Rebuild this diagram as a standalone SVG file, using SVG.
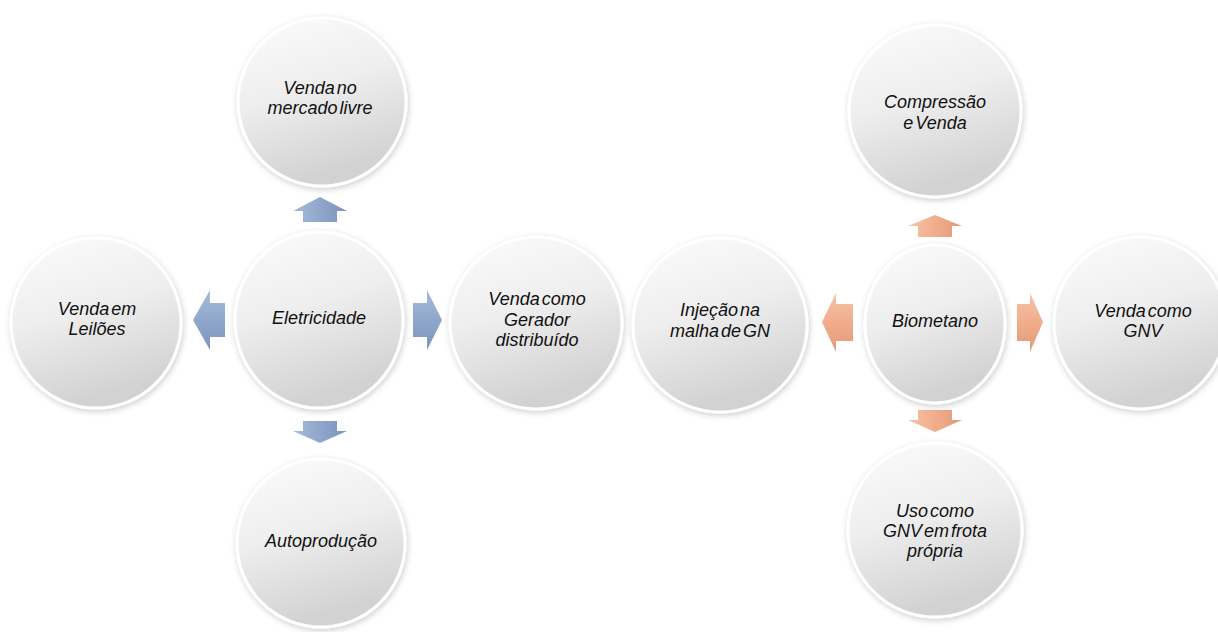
<svg xmlns="http://www.w3.org/2000/svg" width="1218" height="632" viewBox="0 0 1218 632">
<defs>
<linearGradient id="gFill" x1="0" y1="0" x2="0.3" y2="1">
<stop offset="0" stop-color="#fcfcfc"/>
<stop offset="0.5" stop-color="#eeeeee"/>
<stop offset="1" stop-color="#d2d2d2"/>
</linearGradient>
<linearGradient id="gBlueV" x1="0" y1="0" x2="1" y2="0">
<stop offset="0" stop-color="#a9bcd9"/>
<stop offset="0.5" stop-color="#8fa7cb"/>
<stop offset="1" stop-color="#7a93bb"/>
</linearGradient>
<linearGradient id="gBlueH" x1="0" y1="0" x2="0" y2="1">
<stop offset="0" stop-color="#a9bcd9"/>
<stop offset="0.5" stop-color="#8fa7cb"/>
<stop offset="1" stop-color="#7a93bb"/>
</linearGradient>
<linearGradient id="gSalV" x1="0" y1="0" x2="1" y2="0">
<stop offset="0" stop-color="#f6c3a8"/>
<stop offset="0.5" stop-color="#f0ad8c"/>
<stop offset="1" stop-color="#e39a78"/>
</linearGradient>
<linearGradient id="gSalH" x1="0" y1="0" x2="0" y2="1">
<stop offset="0" stop-color="#f6c3a8"/>
<stop offset="0.5" stop-color="#f0ad8c"/>
<stop offset="1" stop-color="#e39a78"/>
</linearGradient>
<filter id="sh" x="-20%" y="-20%" width="140%" height="140%">
<feGaussianBlur in="SourceAlpha" stdDeviation="3"/>
<feOffset dx="1" dy="2" result="b"/>
<feComponentTransfer><feFuncA type="linear" slope="0.2"/></feComponentTransfer>
<feMerge><feMergeNode/><feMergeNode in="SourceGraphic"/></feMerge>
</filter>
</defs>
<style>
.c{fill:url(#gFill);stroke:#ffffff;stroke-width:3;filter:url(#sh)}
.t{font-family:"Liberation Sans",Arial,sans-serif;font-size:18px;font-style:italic;fill:#111111;text-anchor:middle;word-spacing:-3px}
</style>
<rect width="1218" height="632" fill="#ffffff"/>
<g id="connectors">
<polygon points="320,197 347,211 337,211 337,222 303,222 303,211 293,211" fill="url(#gBlueV)"/>
<polygon points="193,320 210,290 210,303 225,303 225,337 210,337 210,350" fill="url(#gBlueH)"/>
<polygon points="442,320 427,290 427,303 413,303 413,337 427,337 427,350" fill="url(#gBlueH)"/>
<polygon points="320,443 347,431 337,431 337,421 303,421 303,431 293,431" fill="url(#gBlueV)"/>
<polygon points="935,215 962,226 952,226 952,237 918,237 918,226 908,226" fill="url(#gSalV)"/>
<polygon points="935,432 962,420 952,420 952,410 918,410 918,420 908,420" fill="url(#gSalV)"/>
<polygon points="822,322 836,293 836,304 853,304 853,341 836,341 836,352" fill="url(#gSalH)"/>
<polygon points="1043,322 1030,293 1030,304 1017,304 1017,341 1030,341 1030,352" fill="url(#gSalH)"/>
</g>
<g id="n-mercado">
<circle class="c" cx="322" cy="102" r="84"/>
<text class="t" x="320" y="94">Venda no</text>
<text class="t" x="320" y="114">mercado livre</text>
</g>
<g id="n-eletricidade">
<ellipse class="c" cx="319" cy="320" rx="84" ry="88"/>
<text class="t" x="319" y="324">Eletricidade</text>
</g>
<g id="n-leiloes">
<circle class="c" cx="96" cy="323" r="85"/>
<text class="t" x="97" y="315">Venda em</text>
<text class="t" x="97" y="335">Leilões</text>
</g>
<g id="n-gerador">
<circle class="c" cx="536" cy="323" r="86"/>
<text class="t" x="537" y="305">Venda como</text>
<text class="t" x="537" y="326">Gerador</text>
<text class="t" x="537" y="346">distribuído</text>
</g>
<g id="n-autoproducao">
<circle class="c" cx="321" cy="543" r="84"/>
<text class="t" x="321" y="547">Autoprodução</text>
</g>
<g id="n-injecao">
<circle class="c" cx="720" cy="325" r="87"/>
<text class="t" x="720" y="316">Injeção na</text>
<text class="t" x="720" y="337">malha de GN</text>
</g>
<g id="n-biometano">
<ellipse class="c" cx="935" cy="324" rx="70" ry="79"/>
<text class="t" x="935" y="327">Biometano</text>
</g>
<g id="n-compressao">
<circle class="c" cx="935" cy="111" r="86"/>
<text class="t" x="935" y="108">Compressão</text>
<text class="t" x="935" y="129">e Venda</text>
</g>
<g id="n-gnv">
<circle class="c" cx="1140" cy="323" r="86"/>
<text class="t" x="1143" y="317">Venda como</text>
<text class="t" x="1143" y="337">GNV</text>
</g>
<g id="n-uso">
<circle class="c" cx="935" cy="530" r="87"/>
<text class="t" x="935" y="517">Uso como</text>
<text class="t" x="935" y="537">GNV em frota</text>
<text class="t" x="935" y="557">própria</text>
</g>
</svg>
